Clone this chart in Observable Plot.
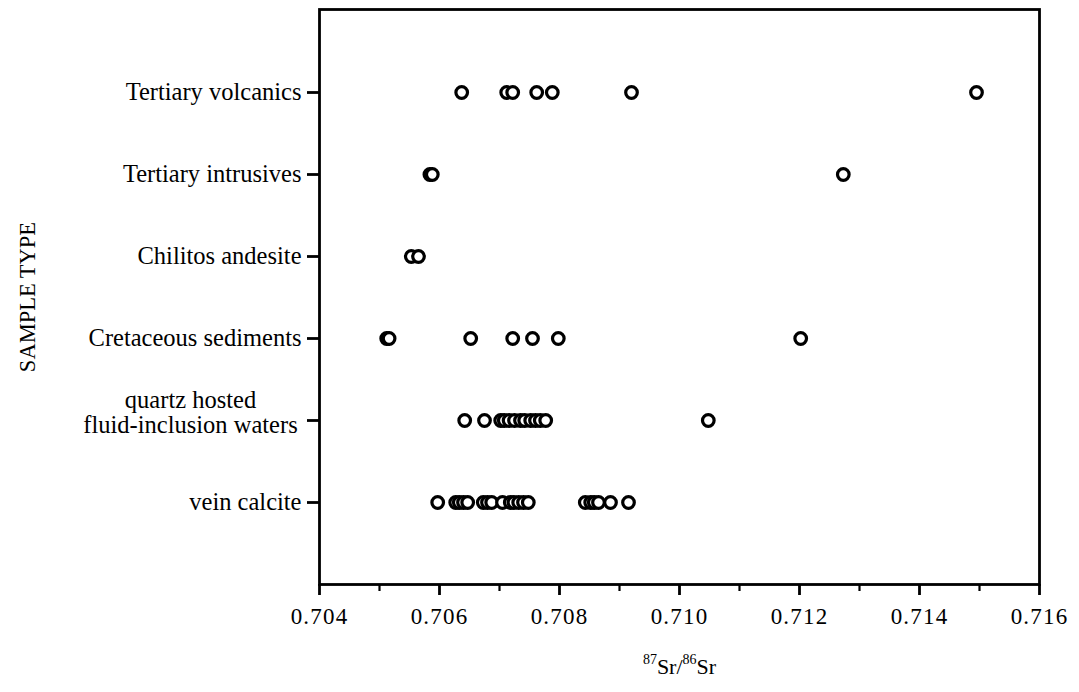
<!DOCTYPE html>
<html>
<head>
<meta charset="utf-8">
<script src="https://cdn.jsdelivr.net/npm/d3@7"></script>
<script src="https://cdn.jsdelivr.net/npm/@observablehq/plot@0.6"></script>
<style>
  html, body { margin: 0; padding: 0; background: #fff; }
  #chart svg { display: block; }
  #chart g[aria-label="x-axis tick label"] text { letter-spacing: 1.2px; }
</style>
</head>
<body>
<div id="chart"></div>
<script>
const categories = [
  "Tertiary volcanics",
  "Tertiary intrusives",
  "Chilitos andesite",
  "Cretaceous sediments",
  "quartz hosted\nfluid-inclusion waters",
  "vein calcite"
];
const tertiaryVolcanics = [0.70637, 0.70712, 0.70722, 0.70762, 0.70788, 0.70920, 0.71495];
const tertiaryIntrusives = [0.70584, 0.70588, 0.71273];
const chilitosAndesite = [0.70553, 0.70565];
const cretaceousSediments = [0.70512, 0.70516, 0.70652, 0.70722, 0.70755, 0.70798, 0.71202];
const quartzFluidInclusions = [0.70642, 0.70675, 0.70702, 0.70708, 0.70716, 0.70725, 0.70735, 0.70742, 0.70752, 0.70760, 0.70768, 0.70777, 0.71048];
const veinCalcite = [0.70597, 0.70627, 0.70633, 0.70640, 0.70647, 0.70673, 0.70680, 0.70687, 0.70705, 0.70718, 0.70724, 0.70732, 0.70740, 0.70748, 0.70843, 0.70852, 0.70858, 0.70865, 0.70885, 0.70915];
const majorTicks = [0.704, 0.706, 0.708, 0.710, 0.712, 0.714, 0.716];
const minorTicks = [0.705, 0.707, 0.709, 0.711, 0.713, 0.715];
const xLabelParts = [["87", true], ["Sr/", false], ["86", true], ["Sr", false]];
const yLabel = "SAMPLE TYPE";

const series = [tertiaryVolcanics, tertiaryIntrusives, chilitosAndesite, cretaceousSediments, quartzFluidInclusions, veinCalcite];
const rows = [];
series.forEach((vals, i) => vals.forEach(v => rows.push({cat: categories[i], v})));
rows.sort((a, b) => a.v - b.v);

const quartzLabel = categories[4];

const chart = Plot.plot({
  width: 1079,
  height: 692,
  marginLeft: 319,
  marginRight: 40,
  marginTop: 9,
  marginBottom: 108,
  style: {fontFamily: "'Liberation Serif', 'Times New Roman', serif", fontSize: "22px", color: "black", background: "white"},
  x: {domain: [0.704, 0.716]},
  y: {type: "point", domain: categories, padding: 1},
  marks: [
    Plot.frame({stroke: "black", strokeWidth: 2.8}),
    Plot.axisX({ticks: minorTicks, tickSize: 7, strokeWidth: 2.2, tickFormat: () => "", label: null}),
    Plot.axisX({
      ticks: majorTicks, tickSize: 11, strokeWidth: 2.8, tickPadding: 12,
      tickFormat: d3.format(".3f"), fontSize: 23,
      label: xLabelParts.map(p => p[0]).join(""), labelAnchor: "center", labelOffset: 86, labelArrow: "none"
    }),
    Plot.axisY({
      tickSize: 12, strokeWidth: 2.8, tickPadding: 6, fontSize: 24.5,
      tickFormat: d => d === quartzLabel ? "" : d,
      label: yLabel, labelAnchor: "center", labelOffset: 300, labelArrow: "none"
    }),
    Plot.text([quartzLabel], {
      y: d => d, text: d => d, frameAnchor: "left", dx: -129, dy: -8,
      textAnchor: "middle", fontSize: 24.5, lineHeight: 1.0
    }),
    Plot.dot(rows, {x: "v", y: "cat", r: 5.8, stroke: "black", strokeWidth: 3.2, fill: "white"})
  ]
});
document.getElementById("chart").appendChild(chart);

// Y-axis title size
d3.select(chart).selectAll('g[aria-label="y-axis label"]').attr("font-size", 22.5);
d3.select(chart).selectAll('g[aria-label="y-axis label"] text').attr("font-size", 22.5);

// Render the x-axis label with true superscripts
const xl = d3.select(chart).select('g[aria-label="x-axis label"] text');
if (!xl.empty()) {
  xl.text(null).attr("font-size", 22);
  xLabelParts.forEach(([t, sup], i) => {
    const ts = xl.append("tspan").text(t).attr("font-size", sup ? 14 : 22);
    ts.attr("dy", i === 0 ? (sup ? "-0.45em" : "0") : (sup ? "-0.7em" : "0.45em"));
  });
}
</script>
</body>
</html>
